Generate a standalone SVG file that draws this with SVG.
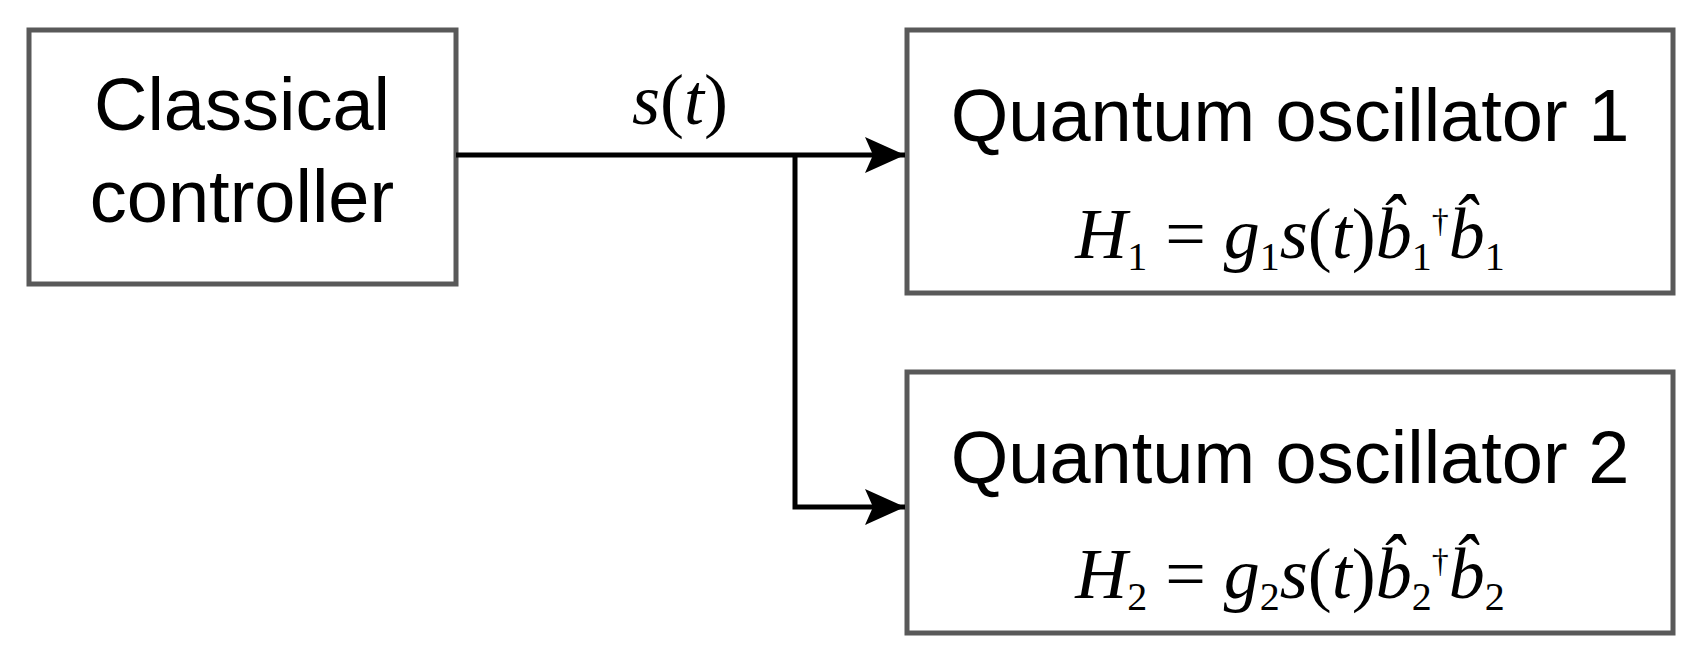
<svg xmlns="http://www.w3.org/2000/svg" width="1701" height="662" viewBox="0 0 1701 662">
<style>
.box{fill:#fff;stroke:#595959;stroke-width:5}
.t{font-family:"Liberation Sans",Arial,sans-serif;font-size:74px;text-anchor:middle;fill:#000}
.m{font-family:"Liberation Serif","Times New Roman",serif;font-style:italic;font-size:72px;fill:#000}
.n{font-style:normal}
.c{fill:none;stroke:#000;stroke-width:5}
</style>
<defs><marker id="ah" markerWidth="40" markerHeight="36" refX="40" refY="18" orient="auto" markerUnits="userSpaceOnUse"><path d="M0,0 L40,18 L0,36 L8,18 z" fill="#000"/></marker></defs>
<g id="classical"><rect class="box" x="29" y="30" width="427" height="254"/><text class="t" x="242" y="130">Classical</text><text class="t" x="242" y="222">controller</text></g>
<g id="osc1"><rect class="box" x="907" y="30" width="766" height="263"/><text class="t" x="1290" y="141" font-size="79">Quantum oscillator 1</text>
<text class="m" x="1290" y="258" text-anchor="middle">H<tspan class="n" font-size="40" dy="12">1</tspan><tspan class="n" dy="-12"> = </tspan>g<tspan class="n" font-size="40" dy="12">1</tspan><tspan dy="-12">s</tspan><tspan class="n">(</tspan>t<tspan class="n">)</tspan>b̂<tspan class="n" font-size="40" dy="12">1</tspan><tspan class="n" font-size="34" dy="-38">†</tspan><tspan dy="26">b̂</tspan><tspan class="n" font-size="40" dy="12">1</tspan></text></g>
<g id="osc2"><rect class="box" x="907" y="372" width="766" height="261"/><text class="t" x="1290" y="483" font-size="79">Quantum oscillator 2</text>
<text class="m" x="1290" y="598" text-anchor="middle">H<tspan class="n" font-size="40" dy="12">2</tspan><tspan class="n" dy="-12"> = </tspan>g<tspan class="n" font-size="40" dy="12">2</tspan><tspan dy="-12">s</tspan><tspan class="n">(</tspan>t<tspan class="n">)</tspan>b̂<tspan class="n" font-size="40" dy="12">2</tspan><tspan class="n" font-size="34" dy="-38">†</tspan><tspan dy="26">b̂</tspan><tspan class="n" font-size="40" dy="12">2</tspan></text></g>
<g id="connectors">
<path class="c" d="M456,155 H905" marker-end="url(#ah)"/>
<path class="c" d="M795,155 V507 H905" marker-end="url(#ah)"/>
<text class="m" x="680" y="124" font-size="96" text-anchor="middle">s<tspan class="n">(</tspan>t<tspan class="n">)</tspan></text>
</g>
</svg>
